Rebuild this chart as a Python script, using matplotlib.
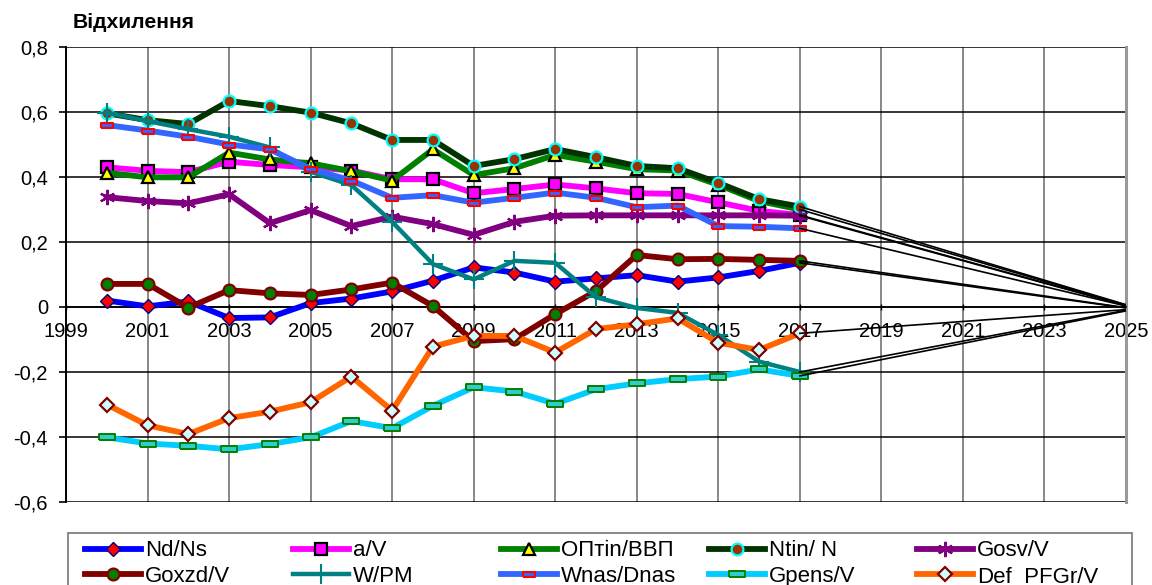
import matplotlib
matplotlib.use("Agg")
import matplotlib.pyplot as plt
from matplotlib.patches import Rectangle
from matplotlib.ticker import FuncFormatter, FixedLocator, MultipleLocator

plt.rcParams['font.family'] = ['Liberation Sans', 'DejaVu Sans']

years = list(range(2000, 2018))

nd_ns = [0.02, 0.002, 0.017, -0.034, -0.032, 0.012, 0.026, 0.048, 0.081,
         0.122, 0.106, 0.078, 0.088, 0.098, 0.078, 0.091, 0.111, 0.136]
a_v = [0.43, 0.419, 0.415, 0.447, 0.437, 0.43, 0.42, 0.393, 0.393,
       0.35, 0.363, 0.377, 0.365, 0.35, 0.348, 0.322, 0.296, 0.283]
optin_vvp = [0.413, 0.399, 0.399, 0.475, 0.454, 0.442, 0.418, 0.389, 0.485,
             0.406, 0.427, 0.468, 0.447, 0.424, 0.42, 0.376, 0.326, 0.3]
ntin_n = [0.596, 0.575, 0.563, 0.634, 0.618, 0.598, 0.565, 0.514, 0.514,
          0.434, 0.455, 0.486, 0.461, 0.434, 0.427, 0.382, 0.332, 0.309]
gosv_v = [0.338, 0.326, 0.319, 0.347, 0.258, 0.298, 0.249, 0.278, 0.255,
          0.222, 0.262, 0.281, 0.282, 0.282, 0.282, 0.282, 0.282, 0.281]
goxzd_v = [0.071, 0.071, -0.002, 0.052, 0.042, 0.037, 0.054, 0.075, 0.003,
           -0.105, -0.099, -0.022, 0.049, 0.16, 0.147, 0.148, 0.145, 0.142]
w_pm = [0.598, 0.572, 0.547, 0.524, 0.491, 0.416, 0.375, 0.262, 0.132,
        0.085, 0.142, 0.136, 0.03, -0.003, -0.018, -0.086, -0.168, -0.2]
wnas_dnas = [0.56, 0.543, 0.524, 0.5, 0.485, 0.425, 0.389, 0.336, 0.344,
             0.321, 0.336, 0.352, 0.336, 0.307, 0.312, 0.249, 0.247, 0.242]
gpens_v = [-0.401, -0.42, -0.427, -0.438, -0.422, -0.401, -0.351, -0.373, -0.304,
           -0.247, -0.26, -0.298, -0.253, -0.235, -0.222, -0.214, -0.192, -0.212]
def_pfgr_v = [-0.3, -0.364, -0.391, -0.342, -0.322, -0.293, -0.214, -0.319, -0.122,
              -0.089, -0.089, -0.14, -0.068, -0.053, -0.035, -0.11, -0.132, -0.081]

# кінцеві точки ліній збіжності (2025)
conv_year = 2025
conv_end = [-0.003, 0.005, 0.006, 0.007, 0.004, -0.002, -0.01, 0.003, -0.012, -0.008]

x_ticks = list(range(1999, 2026, 2))

rect = [(-1, -0.45), (1, -0.45), (1, 0.45), (-1, 0.45), (-1, -0.45)]

series = [
    ("Nd/Ns", nd_ns, dict(color="#0000FF", lw=4.2, marker="D", ms=7, mfc="#FF0000", mec="#000080", mew=1)),
    ("a/V", a_v, dict(color="#FF00FF", lw=4.2, marker="s", ms=8.5, mfc="#FF00FF", mec="#000000", mew=1.6)),
    ("ОПтіn/ВВП", optin_vvp, dict(color="#008000", lw=4.2, marker="^", ms=8.5, mfc="#FFFF00", mec="#000000", mew=1.6)),
    ("Ntin/ N", ntin_n, dict(color="#003300", lw=4.2, marker="o", ms=8.5, mfc="#993300", mec="#00FFFF", mew=1.6)),
    ("Gosv/V", gosv_v, dict(color="#800080", lw=4.2, marker=(6, 2, 0), ms=11, mfc="#800080", mec="#800080", mew=1.6)),
    ("Goxzd/V", goxzd_v, dict(color="#800000", lw=4.2, marker="o", ms=8.5, mfc="#008000", mec="#800000", mew=1.6)),
    ("W/PM", w_pm, dict(color="#008080", lw=3.2, marker="+", ms=14, mfc="#008080", mec="#008080", mew=1.5)),
    ("Wnas/Dnas", wnas_dnas, dict(color="#3366FF", lw=4.2, marker=rect, ms=8, mfc="#3366FF", mec="#FF0000", mew=1.5)),
    ("Gpens/V", gpens_v, dict(color="#00CCFF", lw=4.2, marker=rect, ms=11, mfc="#33CCCC", mec="#008000", mew=1.4)),
    ("Def_PFGr/V", def_pfgr_v, dict(color="#FF6600", lw=4.2, marker="D", ms=7.5, mfc="#CCFFFF", mec="#800000", mew=1.6)),
]

fig = plt.figure(figsize=(11.52, 5.85), dpi=100)
ax = fig.add_axes([66 / 1152, 1 - 502 / 585, 1060 / 1152, 455 / 585])

handles = []
for name, vals, st in series:
    h, = ax.plot(years, vals, label=name, solid_joinstyle="miter", zorder=3, **st)
    handles.append(h)

# лінії збіжності до 2025 року
for (name, vals, st), yend in zip(series, conv_end):
    ax.plot([years[-1], conv_year], [vals[-1], yend], color="black", lw=1.2, zorder=5)

ax.set_xlim(1999, 2025)
ax.set_ylim(-0.6, 0.8)
ax.xaxis.set_major_locator(FixedLocator(x_ticks))
ax.yaxis.set_major_locator(MultipleLocator(0.2))
ax.yaxis.set_major_formatter(FuncFormatter(lambda v, p: "0" if abs(v) < 1e-9 else f"{v:.1f}".replace(".", ",")))
ax.xaxis.set_major_formatter(FuncFormatter(lambda v, p: f"{int(round(v))}"))

ax.grid(axis="y", color="#000000", lw=1.1, zorder=1)
ax.grid(axis="x", color="#7f7f7f", lw=1.3, zorder=1)

ax.spines["top"].set_visible(False)
ax.spines["bottom"].set_position(("data", 0))
ax.spines["bottom"].set_linewidth(1.2)
ax.spines["left"].set_linewidth(1.4)
ax.spines["right"].set_color("#999999")
ax.spines["right"].set_linewidth(2.2)

ax.tick_params(axis="y", direction="out", length=5, width=1.2, pad=8, labelsize=14.5)
ax.tick_params(axis="x", direction="inout", length=4, width=1, pad=9, labelsize=14.5)

fig.text(73 / 1152, 1 - 22 / 585, "Відхилення", fontsize=15.2, fontweight="bold", va="center", ha="left")

# легенда: 5 колонок по два рядки
fig.patches.append(Rectangle((68 / 1152, -0.05), 1064 / 1152, 0.05 + 52 / 585,
                             transform=fig.transFigure, fill=False, ec="#808080", lw=1.3))
order = [(0, 5), (1, 6), (2, 7), (3, 8), (4, 9)]
col_x = [82, 290, 498, 706, 914]
for (i, j), cx in zip(order, col_x):
    fig.legend([handles[i], handles[j]], [series[i][0], series[j][0]],
               loc="upper left", bbox_to_anchor=(cx / 1152, 1 - 537 / 585),
               frameon=False, ncol=1, fontsize=16, handlelength=2.5,
               handletextpad=0.2, labelspacing=0.22, borderpad=0.15,
               borderaxespad=0, numpoints=1)

fig.savefig("out.png", dpi=100)
